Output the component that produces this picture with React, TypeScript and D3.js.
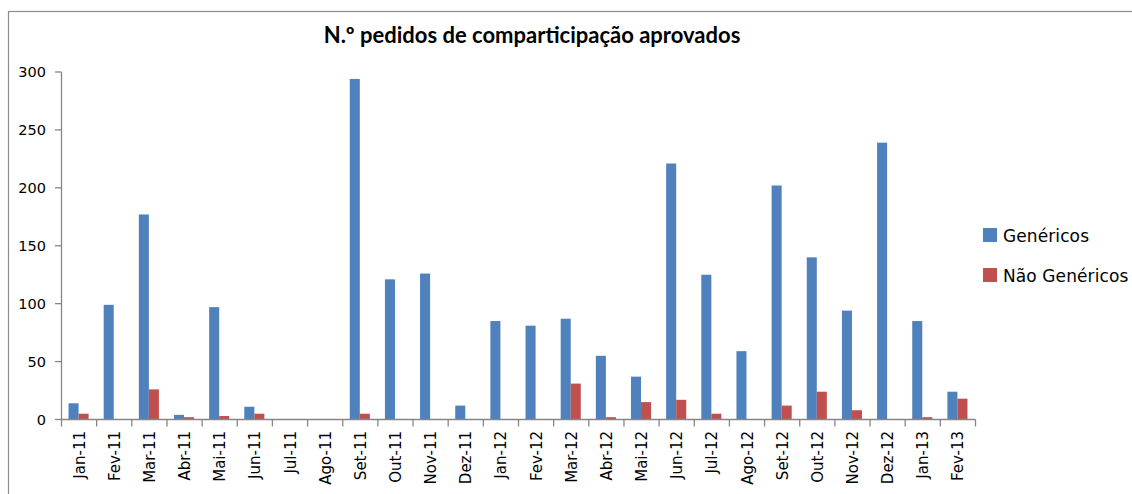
import * as d3 from 'd3';
import * as React from "react";

const months = [
    "Jan-11", "Fev-11", "Mar-11", "Abr-11", "Mai-11", "Jun-11", "Jul-11", "Ago-11", "Set-11", "Out-11",
    "Nov-11", "Dez-11", "Jan-12", "Fev-12", "Mar-12", "Abr-12", "Mai-12", "Jun-12", "Jul-12", "Ago-12",
    "Set-12", "Out-12", "Nov-12", "Dez-12", "Jan-13", "Fev-13",
];
const genericos = [14, 99, 177, 4, 97, 11, 0, 0, 294, 121, 126, 12, 85, 81, 87, 55, 37, 221, 125, 59, 202, 140, 94, 239, 85, 24];
const naoGenericos = [5, 0, 26, 2, 3, 5, 0, 0, 5, 0, 0, 0, 0, 0, 31, 2, 15, 17, 5, 0, 12, 24, 8, 0, 2, 18];
const seriesNames = ["Genéricos", "Não Genéricos"];
const seriesColors = ["#4F81BD", "#C0504D"];
const yTicks = [0, 50, 100, 150, 200, 250, 300];

const W = 1132;
const H = 494;
const axisColor = "#868686";
const font = "'DejaVu Sans', Verdana, sans-serif";

export default function App() {
    const x = d3.scaleBand<string>().domain(months).range([61, 975]).padding(0);
    const y = d3.scaleLinear().domain([0, 300]).range([419.5, 72]);

    // Excel style: gap width 150% between groups
    const barW = x.bandwidth() / 3.5;
    const inner = d3.scaleBand<number>()
        .domain([0, 1])
        .range([barW * 0.75, barW * 2.75])
        .padding(0);

    const values = [genericos, naoGenericos];

    return (
        <svg width={W} height={H} style={{ position: "absolute", left: 0, top: 0, background: "#fff" }}>
            <rect x={8.5} y={11.5} width={1300} height={700} fill="#fff" stroke="#8c8c8c" strokeWidth={1.2} />

            <text x={532} y={43} textAnchor="middle" fontFamily="Lato, 'Open Sans', sans-serif"
                  fontWeight="bold" fontSize={22} fill="#000">
                N.º pedidos de comparticipação aprovados
            </text>

            {/* bars */}
            {values.map((vals, s) => (
                <g key={s}>
                    {months.map((m, i) => vals[i] > 0 ? (
                        <rect key={m}
                              x={x(m)! + inner(s)!}
                              y={y(vals[i])}
                              width={inner.bandwidth()}
                              height={y(0) - y(vals[i])}
                              fill={seriesColors[s]} />
                    ) : null)}
                </g>
            ))}

            {/* y axis */}
            <line x1={61.5} x2={61.5} y1={y(300)} y2={y(0)} stroke={axisColor} strokeWidth={1.3} />
            {yTicks.map(t => (
                <g key={t}>
                    <line x1={55} x2={61.5} y1={y(t)} y2={y(t)} stroke={axisColor} strokeWidth={1.3} />
                    <text x={46} y={y(t)} textAnchor="end" dominantBaseline="central"
                          fontFamily={font} fontSize={14.5} fill="#000">{t}</text>
                </g>
            ))}

            {/* x axis */}
            <line x1={61} x2={975.5} y1={y(0)} y2={y(0)} stroke={axisColor} strokeWidth={1.3} />
            {[...months.map(m => x(m)!), 975].map((px, i) => (
                <line key={i} x1={px + 0.5} x2={px + 0.5} y1={y(0)} y2={y(0) + 7} stroke={axisColor} strokeWidth={1.3} />
            ))}
            {months.map(m => {
                const cx = x(m)! + x.bandwidth() / 2 + 1;
                return (
                    <text key={m} transform={`translate(${cx},431) rotate(-90)`} textAnchor="end"
                          dominantBaseline="central" fontFamily={font} fontSize={15} fill="#000">{m}</text>
                );
            })}

            {/* legend */}
            {seriesNames.map((name, i) => (
                <g key={name} transform={`translate(983,${228 + i * 40})`}>
                    <rect x={0} y={0} width={14} height={14} fill={seriesColors[i]} />
                    <text x={20} y={14} fontFamily={font} fontSize={17} letterSpacing={0.1} fill="#000">{name}</text>
                </g>
            ))}
        </svg>
    );
}
